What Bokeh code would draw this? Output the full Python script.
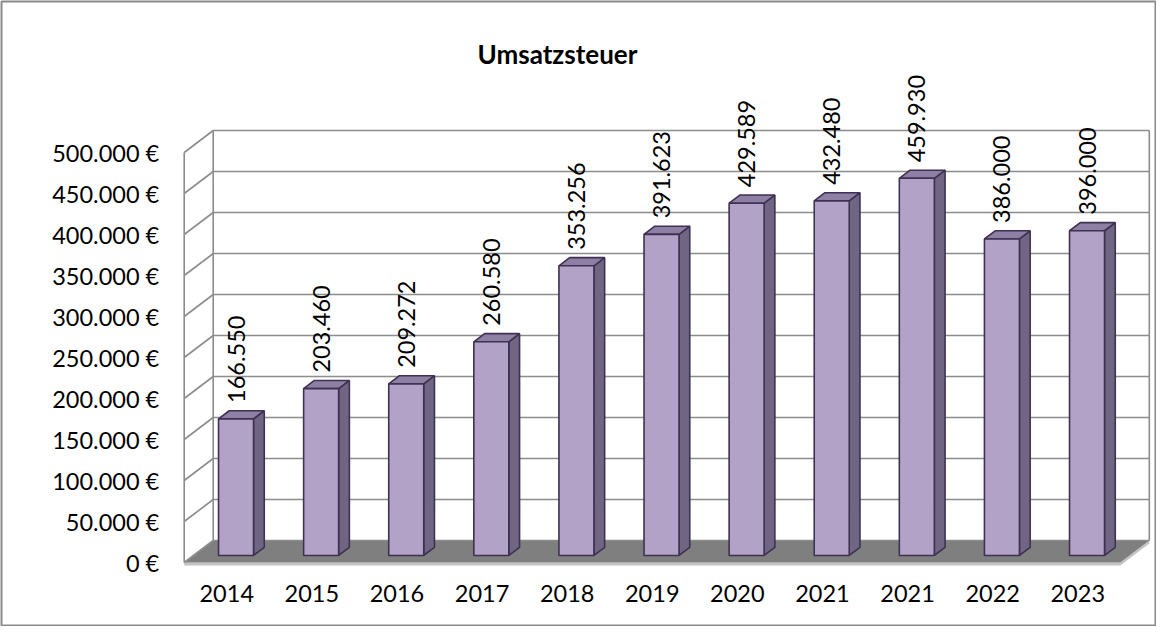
import math
from bokeh.plotting import figure
from bokeh.models import Range1d
from bokeh.core.properties import value
from bokeh.embed import file_html
from bokeh.resources import INLINE

# ---- data ----
years = ["2014", "2015", "2016", "2017", "2018", "2019", "2020", "2021", "2021", "2022", "2023"]
amounts = [166550, 203460, 209272, 260580, 353256, 391623, 429589, 432480, 459930, 386000, 396000]
tick_values = [0, 50000, 100000, 150000, 200000, 250000, 300000, 350000, 400000, 450000, 500000]
title_text = "Umsatzsteuer"

# ---- layout (pixels) ----
W, H = 1156, 626
MB = 1
FW, FH = W - 2 * MB, H - 2 * MB
PX_PER_CAT = 85.1
PX_PER_VAL = 41.0 / 50000
FRONT_LEFT_PX = 191.7 - 8 - MB      # frame px of front-left floor corner
BACK_ZERO_PY = 548 - 8 - MB         # frame py of value 0 on the back wall
DEPTH_PX_X, DEPTH_PX_Y = 29.0, 22.0

DX = DEPTH_PX_X / PX_PER_CAT
DY = DEPTH_PX_Y / PX_PER_VAL
F1, F2 = 0.32, 0.69                 # bar front / back depth fraction (0=front, 1=back)
HALF_W = 35.0 / PX_PER_CAT / 2

def page_to_data(px, py):
    fx = px - 8 - MB
    fy = py - 8 - MB
    return (fx - FRONT_LEFT_PX) / PX_PER_CAT, (BACK_ZERO_PY - fy) / PX_PER_VAL

x0 = -FRONT_LEFT_PX / PX_PER_CAT
x1 = (FW - FRONT_LEFT_PX) / PX_PER_CAT
y1 = BACK_ZERO_PY / PX_PER_VAL
y0 = -(FH - BACK_ZERO_PY) / PX_PER_VAL

p = figure(width=W, height=H, x_range=Range1d(x0, x1), y_range=Range1d(y0, y1),
           output_backend="svg", toolbar_location=None,
           x_axis_location=None, y_axis_location=None, min_border=MB)
p.xgrid.visible = False
p.ygrid.visible = False
p.outline_line_color = "#8a8a8a"
p.outline_line_width = 2
p.background_fill_color = "white"
p.border_fill_color = "white"

n = len(years)
top = max(tick_values)
GRID = "#8c8c8c"
FONT = value("Lato")
FS = "23.5px"

def depth(xf, yv, f):
    return xf + f * DX, yv - (1 - f) * DY

# floor slab edge
t = 3.0 / PX_PER_VAL
p.patch([0, n, n + DX, n + DX, n, 0], [-DY, -DY, 0, -t, -DY - t, -DY - t],
        fill_color="#c3c3c3", line_color=None)
# floor
p.patch([0, n, n + DX, DX], [-DY, -DY, 0, 0], fill_color="#7f7f7f", line_color=None)

# back wall gridlines
p.multi_line([[DX, n + DX] for v in tick_values], [[v, v] for v in tick_values],
             line_color=GRID, line_width=1.6)
# side wall diagonals
p.multi_line([[0, DX] for v in tick_values], [[v - DY, v] for v in tick_values],
             line_color=GRID, line_width=1.6)
# vertical edges
p.multi_line([[0, 0], [DX, DX], [n + DX, n + DX]],
             [[-DY, top - DY], [0, top], [0, top]], line_color=GRID, line_width=1.6)

# bars
fx, fy, sx, sy, tx, ty = [], [], [], [], [], []
for i, v in enumerate(amounts):
    c = i + 0.5
    xl_f, yb_f = depth(c - HALF_W, 0, F1)
    xr_f, yt_f = depth(c + HALF_W, v, F1)
    xl_b, yb_b = depth(c - HALF_W, 0, F2)
    xr_b, yt_b = depth(c + HALF_W, v, F2)
    fx.append([xl_f, xr_f, xr_f, xl_f]); fy.append([yb_f, yb_f, yt_f, yt_f])
    sx.append([xr_f, xr_b, xr_b, xr_f]); sy.append([yb_f, yb_b, yt_b, yt_f])
    tx.append([xl_f, xr_f, xr_b, xl_b]); ty.append([yt_f, yt_f, yt_b, yt_b])

OUT = "#3f3151"
p.patches(sx, sy, fill_color="#716584", line_color=OUT, line_width=1.6)
p.patches(tx, ty, fill_color="#8e7fa4", line_color=OUT, line_width=1.6)
p.patches(fx, fy, fill_color="#b2a2c7", line_color=OUT, line_width=1.6)

# value labels
lx = [i + 0.5 + F1 * DX for i in range(n)]
ly = [v - (1 - F1) * DY for v in amounts]
labels = [f"{v:,}".replace(",", ".") for v in amounts]
p.text(lx, ly, text=labels, angle=math.pi / 2, text_align="left", text_baseline="middle",
       y_offset=-16, text_font=FONT, text_font_size=FS, text_color="black")

# y tick labels (front plane)
ylabels = [("0 €" if v == 0 else f"{v:,} €".replace(",", ".")) for v in tick_values]
p.text([0] * len(tick_values), [v - DY for v in tick_values], text=ylabels,
       x_offset=-25, text_align="right", text_baseline="middle",
       text_font=FONT, text_font_size=FS, text_color="black")

# year labels
p.text([i + 0.5 for i in range(n)], [-DY] * n, text=years, y_offset=31,
       text_align="center", text_baseline="middle",
       text_font=FONT, text_font_size=FS, text_color="black")

# title
tx0, ty0 = page_to_data(565, 61)
p.text([tx0], [ty0], text=[title_text], text_align="center", text_baseline="middle",
       text_font=FONT, text_font_size="26px", text_font_style="bold", text_color="black")

open("out.html", "w").write(file_html(p, INLINE))
